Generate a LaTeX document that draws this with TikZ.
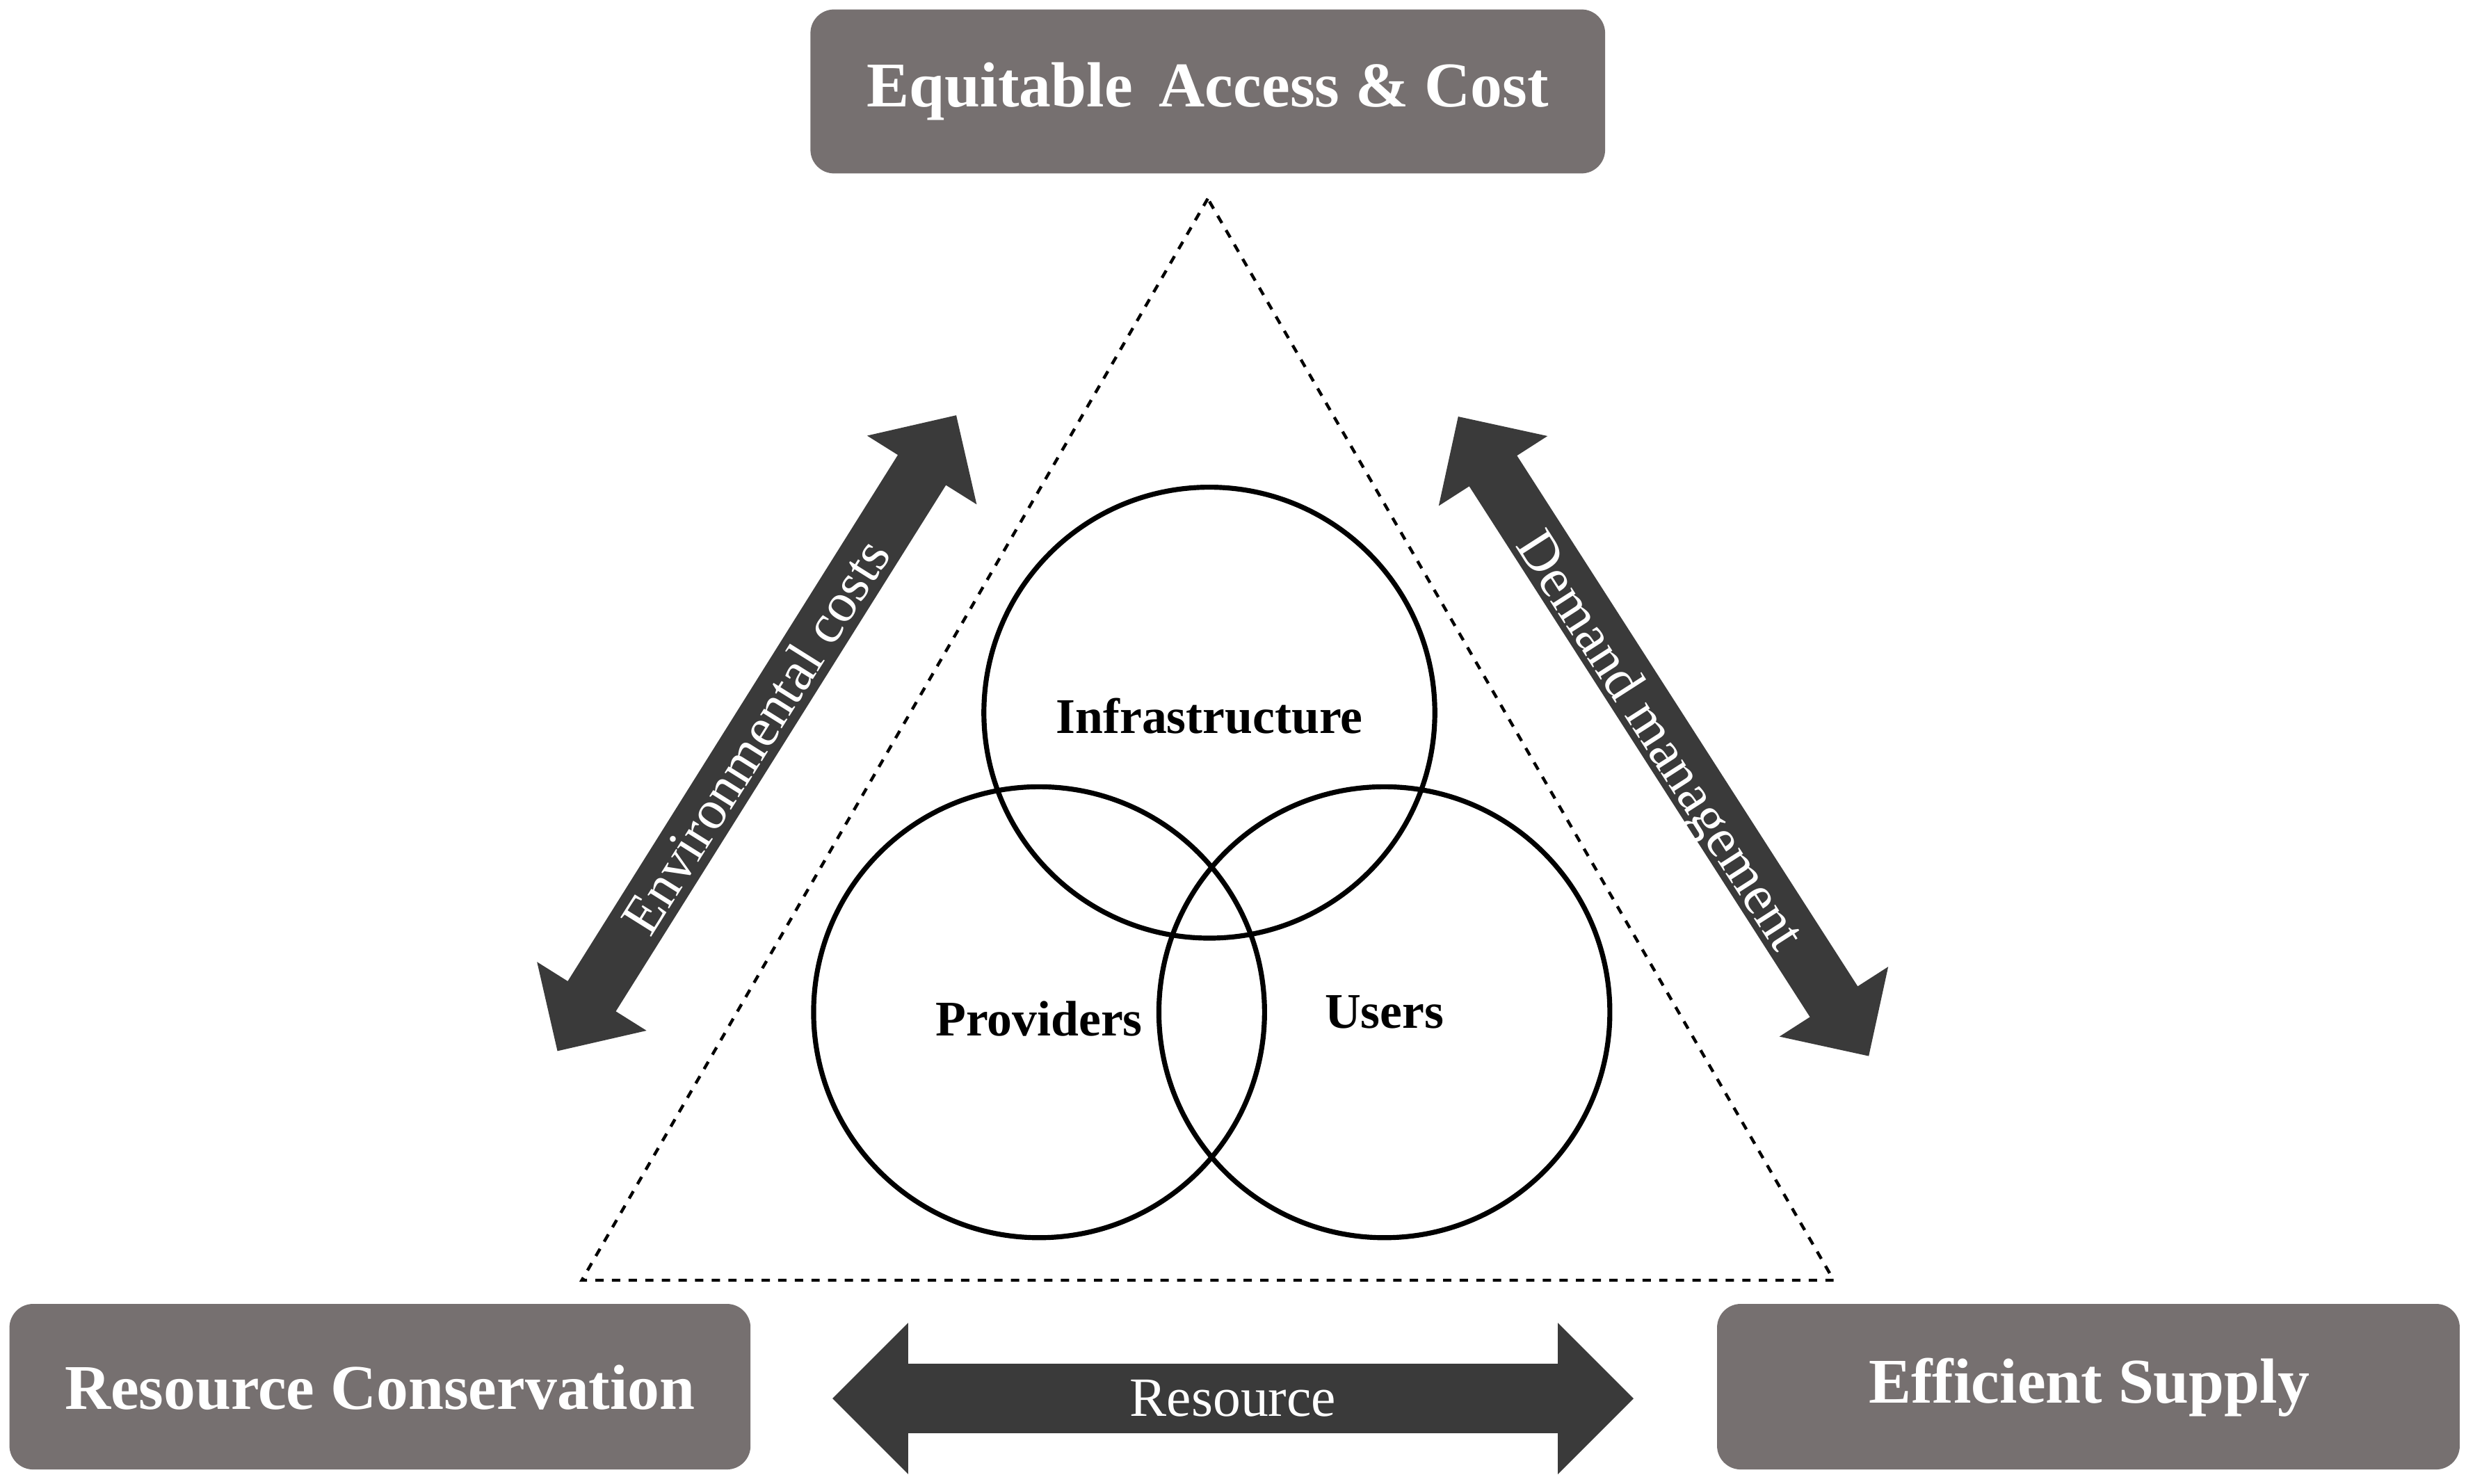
\documentclass[tikz,border=0pt]{standalone}
\usepackage{fontspec}
\setmainfont{Liberation Serif}
\begin{document}
\begin{tikzpicture}[x=0.02cm,y=0.02cm,
  box/.style={fill=boxc,rounded corners=0.3cm,draw=none},
  boxtext/.style={text=white,font=\bfseries\fontsize{23}{26}\selectfont},
  circ/.style={draw=black,line width=1.8pt},
  ctext/.style={font=\bfseries\fontsize{18}{21}\selectfont},
  atext/.style={text=white,font=\fontsize{20}{22}\selectfont},
  arr/.style={fill=arrc}]
\definecolor{boxc}{RGB}{118,112,112}
\definecolor{arrc}{RGB}{58,58,58}
\useasboundingbox (0,0) rectangle (1564,941);
% boxes
\fill[box] (514,831) rectangle (1018,935);
\node[boxtext] (top) at (766,883) {Equitable\, Access \& Cost};
\fill[box] (6,9) rectangle (476,114);
\node[boxtext] (left) at (241,61) {Resource Conservation};
\fill[box] (1089,9) rectangle (1560,114);
\node[boxtext] (right) at (1325,61) {Efficient Supply};
% triangle
\draw[dashed,line width=1.1pt] (766,815) -- (369,129) -- (1163,129) -- cycle;
% circles
\draw[circ] (767,489) circle (143);
\draw[circ] (659,299) circle (143);
\draw[circ] (878,299) circle (143);
\node[ctext] (inf) at (767,487) {Infrastructure};
\node[ctext] (prov) at (659,295) {Providers};
\node[ctext] (users) at (878,299) {Users};
% arrows
\foreach \cx/\cy/\ang/\L/\w/\W in {480/476/57.9/238/18/41, 1055/474/-57.3/241/18/41, 782/54/0/254/22/48}{
  \fill[arr,shift={(\cx,\cy)},rotate=\ang]
    (-\L,0) -- (-\L+\W,\W) -- (-\L+\W,\w) -- (\L-\W,\w) -- (\L-\W,\W) -- (\L,0)
    -- (\L-\W,-\W) -- (\L-\W,-\w) -- (-\L+\W,-\w) -- (-\L+\W,-\W) -- cycle;
}
\node[atext,rotate=57.9] (env) at (479,474) {Environmental costs};
\node[atext,rotate=-57.3] (dem) at (1051,470) {Demand management};
\node[atext] (res) at (782,54) {Resource};
\end{tikzpicture}
\end{document}
